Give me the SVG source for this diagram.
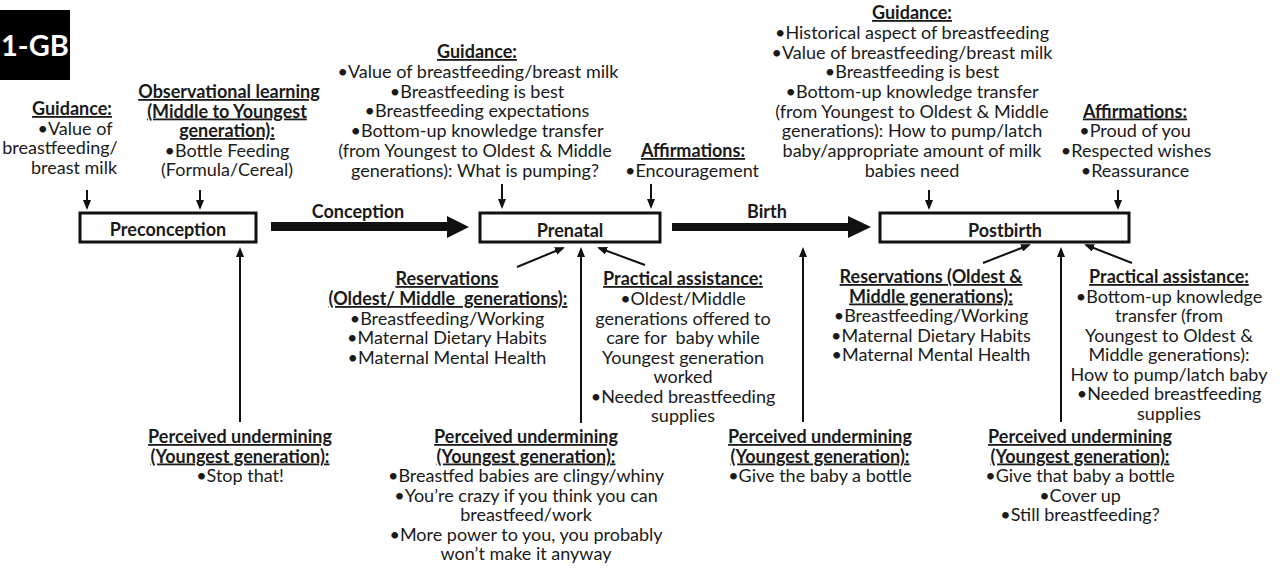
<svg xmlns="http://www.w3.org/2000/svg" width="1283" height="570" viewBox="0 0 1283 570">
<style>
.t{font-family:Lato,"Liberation Sans",sans-serif;font-size:18px;fill:#1a1a1a;text-anchor:middle}
.h{font-weight:bold;text-decoration:underline}
.b{font-weight:bold}
.box{fill:#fff;stroke:#111;stroke-width:3}
.ln{stroke:#111;stroke-width:2;fill:none;marker-end:url(#ah)}
.big{fill:#111}
</style>
<defs>
<marker id="ah" markerUnits="userSpaceOnUse" markerWidth="10" markerHeight="8" viewBox="0 0 10 8" refX="8" refY="4" orient="auto">
<path d="M0,0 L10,4 L0,8 z" fill="#111"/>
</marker>
</defs>
<rect width="1283" height="570" fill="#fff"/>

<g id="label-1gb">
<rect x="0" y="10" width="70" height="70" fill="#000"/>
<text x="1" y="56" style="font-family:Lato,'Liberation Sans',sans-serif;font-size:29px;font-weight:bold;fill:#fff;text-anchor:start">1-GB</text>
</g>

<g id="connectors">
<path class="big" d="M271,222 H447 V216 L469,227 L447,238 V231 H271 Z"/>
<path class="big" d="M672,223 H848 V216 L871,227 L848,238 V231 H672 Z"/>
<text class="t b" x="358" y="218">Conception</text>
<text class="t b" x="767" y="218">Birth</text>
<line class="ln" x1="87" y1="190" x2="87" y2="208"/>
<line class="ln" x1="200" y1="190" x2="200" y2="208"/>
<line class="ln" x1="502" y1="184" x2="502" y2="207"/>
<line class="ln" x1="651" y1="184" x2="651" y2="207"/>
<line class="ln" x1="929" y1="190" x2="929" y2="208"/>
<line class="ln" x1="1118" y1="190" x2="1118" y2="208"/>
<line class="ln" x1="240" y1="422" x2="240" y2="249"/>
<line class="ln" x1="581" y1="423" x2="581" y2="249"/>
<line class="ln" x1="803" y1="422" x2="803" y2="249"/>
<line class="ln" x1="1061" y1="422" x2="1061" y2="249"/>
<line class="ln" x1="517" y1="267" x2="563" y2="248"/>
<line class="ln" x1="645" y1="265" x2="599" y2="248"/>
<line class="ln" x1="983" y1="263" x2="1029" y2="245"/>
<line class="ln" x1="1132" y1="263" x2="1086" y2="245"/>
</g>

<g id="preconception">
<rect class="box" x="80" y="213" width="176" height="29"/>
<text class="t b" x="168" y="236">Preconception</text>
</g>
<g id="prenatal">
<rect class="box" x="480" y="213" width="180" height="29"/>
<text class="t b" x="570" y="237">Prenatal</text>
</g>
<g id="postbirth">
<rect class="box" x="880" y="213" width="249" height="29"/>
<text class="t b" x="1005" y="237">Postbirth</text>
</g>

<g id="guidance-preconception">
<text class="t h" x="72" y="115">Guidance:</text>
<text class="t" x="75" y="134.5">•Value of</text>
<text class="t" x="60" y="154">breastfeeding/</text>
<text class="t" x="74" y="173.5">breast milk</text>
</g>

<g id="observational-learning">
<text class="t h" x="229" y="98">Observational learning</text>
<text class="t h" x="227" y="117.5">(Middle to Youngest</text>
<text class="t h" x="227" y="137">generation):</text>
<text class="t" x="227" y="156.5">•Bottle Feeding</text>
<text class="t" x="227" y="176">(Formula/Cereal)</text>
</g>

<g id="guidance-prenatal">
<text class="t h" x="477" y="58">Guidance:</text>
<text class="t" x="478" y="77.8">•Value of breastfeeding/breast milk</text>
<text class="t" x="477" y="97.6">•Breastfeeding is best</text>
<text class="t" x="477" y="117.4">•Breastfeeding expectations</text>
<text class="t" x="477" y="137.2">•Bottom-up knowledge transfer</text>
<text class="t" x="475" y="157">(from Youngest to Oldest &amp; Middle</text>
<text class="t" x="475" y="176.8">generations): What is pumping?</text>
</g>

<g id="affirmations-prenatal">
<text class="t h" x="693" y="157">Affirmations:</text>
<text class="t" x="692" y="177">•Encouragement</text>
</g>

<g id="guidance-postbirth">
<text class="t h" x="912" y="19">Guidance:</text>
<text class="t" x="912" y="39">•Historical aspect of breastfeeding</text>
<text class="t" x="912" y="58.5">•Value of breastfeeding/breast milk</text>
<text class="t" x="912" y="78">•Breastfeeding is best</text>
<text class="t" x="912" y="98">•Bottom-up knowledge transfer</text>
<text class="t" x="912" y="117.5">(from Youngest to Oldest &amp; Middle</text>
<text class="t" x="912" y="137">generations): How to pump/latch</text>
<text class="t" x="912" y="157">baby/appropriate amount of milk</text>
<text class="t" x="912" y="176.5">babies need</text>
</g>

<g id="affirmations-postbirth">
<text class="t h" x="1135" y="117.5">Affirmations:</text>
<text class="t" x="1135" y="137">•Proud of you</text>
<text class="t" x="1136" y="157">•Respected wishes</text>
<text class="t" x="1135" y="176.5">•Reassurance</text>
</g>

<g id="reservations-prenatal">
<text class="t h" x="447" y="285">Reservations</text>
<text class="t h" x="448" y="305" xml:space="preserve">(Oldest/ Middle  generations):</text>
<text class="t" x="447" y="324.5">•Breastfeeding/Working</text>
<text class="t" x="447" y="344">•Maternal Dietary Habits</text>
<text class="t" x="447" y="363.5">•Maternal Mental Health</text>
</g>

<g id="practical-prenatal">
<text class="t h" x="683" y="285">Practical assistance:</text>
<text class="t" x="683" y="305">•Oldest/Middle</text>
<text class="t" x="683" y="324.5">generations offered to</text>
<text class="t" x="683" y="344" xml:space="preserve">care for  baby while</text>
<text class="t" x="683" y="363.5">Youngest generation</text>
<text class="t" x="683" y="383">worked</text>
<text class="t" x="683" y="402.5">•Needed breastfeeding</text>
<text class="t" x="683" y="422">supplies</text>
</g>

<g id="reservations-postbirth">
<text class="t h" x="931" y="283">Reservations (Oldest &amp;</text>
<text class="t h" x="931" y="302.5">Middle generations):</text>
<text class="t" x="931" y="322">•Breastfeeding/Working</text>
<text class="t" x="931" y="341.5">•Maternal Dietary Habits</text>
<text class="t" x="931" y="361">•Maternal Mental Health</text>
</g>

<g id="practical-postbirth">
<text class="t h" x="1169" y="283">Practical assistance:</text>
<text class="t" x="1169" y="302.5">•Bottom-up knowledge</text>
<text class="t" x="1169" y="322">transfer (from</text>
<text class="t" x="1169" y="341.5">Youngest to Oldest &amp;</text>
<text class="t" x="1169" y="361">Middle generations):</text>
<text class="t" x="1169" y="380.5">How to pump/latch baby</text>
<text class="t" x="1169" y="400">•Needed breastfeeding</text>
<text class="t" x="1169" y="419.5">supplies</text>
</g>

<g id="undermining-preconception">
<text class="t h" x="240" y="443">Perceived undermining</text>
<text class="t h" x="240" y="462.5">(Youngest generation):</text>
<text class="t" x="240" y="482">•Stop that!</text>
</g>

<g id="undermining-prenatal">
<text class="t h" x="526" y="443">Perceived undermining</text>
<text class="t h" x="526" y="462.5">(Youngest generation):</text>
<text class="t" x="526" y="482">•Breastfed babies are clingy/whiny</text>
<text class="t" x="526" y="501.5">•You’re crazy if you think you can</text>
<text class="t" x="526" y="521">breastfeed/work</text>
<text class="t" x="526" y="540.5">•More power to you, you probably</text>
<text class="t" x="526" y="560">won’t make it anyway</text>
</g>

<g id="undermining-birth">
<text class="t h" x="820" y="443">Perceived undermining</text>
<text class="t h" x="820" y="462.5">(Youngest generation):</text>
<text class="t" x="820" y="482">•Give the baby a bottle</text>
</g>

<g id="undermining-postbirth">
<text class="t h" x="1080" y="443">Perceived undermining</text>
<text class="t h" x="1080" y="462.5">(Youngest generation):</text>
<text class="t" x="1080" y="482">•Give that baby a bottle</text>
<text class="t" x="1080" y="501.5">•Cover up</text>
<text class="t" x="1080" y="521">•Still breastfeeding?</text>
</g>
</svg>
